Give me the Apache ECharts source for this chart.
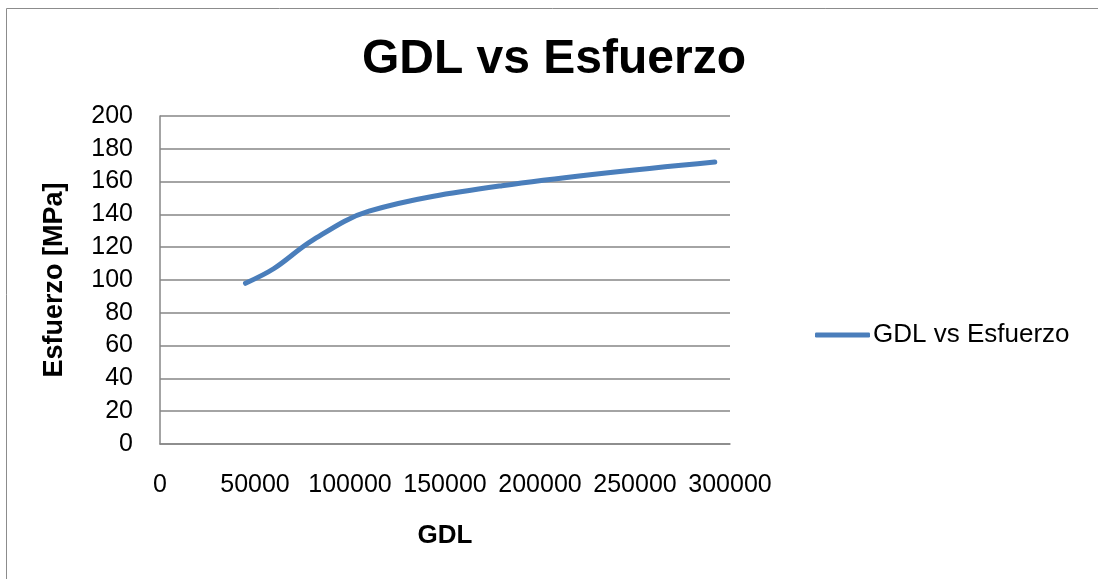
<!DOCTYPE html>
<html>
<head>
<meta charset="utf-8">
<script src="https://cdn.jsdelivr.net/npm/echarts@6/dist/echarts.min.js"></script>
<style>
  html, body { margin: 0; padding: 0; background: #ffffff; }
  #chart { width: 1098px; height: 579px; }
</style>
</head>
<body>
<div id="chart"></div>
<script>
// Degrees of freedom (GDL) against computed stress
const seriesName = 'GDL vs Esfuerzo';
const gdl = [45000, 60000, 80000, 110000, 180000, 292000];
const esfuerzo = [98, 107, 124, 142, 157.5, 172];
const yTicks = [0, 20, 40, 60, 80, 100, 120, 140, 160, 180, 200];
const xTicks = [0, 50000, 100000, 150000, 200000, 250000, 300000];

const points = gdl.map((g, i) => [g, esfuerzo[i]]);
const font = '"Liberation Sans", Arial, sans-serif';
const gridColor = '#868686';
const lineColor = '#4a7ebb';

const chart = echarts.init(document.getElementById('chart'), null, { renderer: 'canvas' });
chart.setOption({
  backgroundColor: '#ffffff',
  animation: false,
  title: {
    text: 'GDL vs Esfuerzo',
    left: 549,
    textAlign: 'center',
    top: 31,
    textStyle: { fontFamily: font, fontSize: 48, fontWeight: 'bold', color: '#000000' }
  },
  graphic: [{
    type: 'rect',
    shape: { x: 6.5, y: 8.5, width: 1100, height: 600 },
    style: { fill: 'none', stroke: '#8c8c8c', lineWidth: 1 },
    silent: true
  }],
  legend: {
    data: [seriesName],
    left: 810,
    top: 317,
    icon: 'roundRect',
    itemWidth: 55,
    itemHeight: 5,
    textStyle: { fontFamily: font, fontSize: 26, color: '#000000', padding: [0, 0, 0, -2] }
  },
  grid: { left: 160, right: 368, top: 116, bottom: 135, containLabel: false },
  xAxis: {
    type: 'value',
    min: xTicks[0],
    max: xTicks[xTicks.length - 1],
    interval: 50000,
    name: 'GDL',
    nameLocation: 'middle',
    nameGap: 79,
    nameTextStyle: { fontFamily: font, fontSize: 26, fontWeight: 'bold', color: '#000000' },
    axisLine: { show: true, onZero: false, lineStyle: { color: gridColor, width: 1.5 } },
    axisTick: { show: false },
    splitLine: { show: false },
    axisLabel: {
      margin: 29,
      fontFamily: font, fontSize: 25, color: '#000000',
      formatter: v => String(v)
    }
  },
  yAxis: {
    type: 'value',
    min: yTicks[0],
    max: yTicks[yTicks.length - 1],
    interval: 20,
    name: 'Esfuerzo [MPa]',
    nameLocation: 'middle',
    nameGap: 92,
    nameTextStyle: { fontFamily: font, fontSize: 27, fontWeight: 'bold', color: '#000000' },
    axisLine: { show: true, lineStyle: { color: gridColor, width: 1.5 } },
    axisTick: { show: false },
    splitLine: { show: true, lineStyle: { color: gridColor, width: 1.5 } },
    axisLabel: {
      margin: 27,
      fontFamily: font, fontSize: 25, color: '#000000'
    }
  },
  series: [{
    name: seriesName,
    type: 'line',
    data: points,
    smooth: 0.35,
    showSymbol: false,
    symbol: 'none',
    lineStyle: { color: lineColor, width: 5, cap: 'round' },
    itemStyle: { color: lineColor }
  }]
});
</script>
</body>
</html>
